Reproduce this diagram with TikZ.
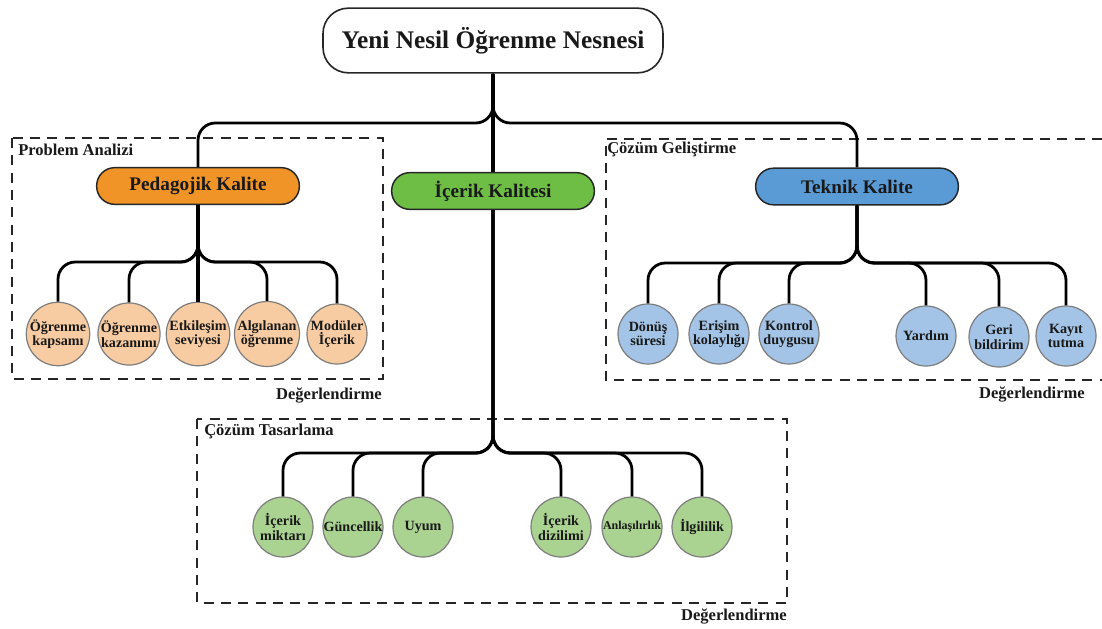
\documentclass[tikz,border=0pt]{standalone}
\usepackage{fontspec}
\setmainfont{Liberation Serif}
\definecolor{txt}{RGB}{25,25,25}
\definecolor{orangeMain}{RGB}{240,148,40}
\definecolor{peach}{RGB}{248,204,162}
\definecolor{greenMain}{RGB}{110,190,70}
\definecolor{greenLight}{RGB}{170,210,145}
\definecolor{blueMain}{RGB}{90,155,214}
\definecolor{blueLight}{RGB}{163,196,230}
\definecolor{leafBorder}{RGB}{125,125,125}
\begin{document}
\begin{tikzpicture}[x=0.75pt,y=-0.75pt,
  conn/.style={draw=black, line width=2.1pt, rounded corners=13pt},
  straightconn/.style={draw=black, line width=2.6pt},
  frame/.style={draw=black!85, line width=1.1pt, dash pattern=on 7.5pt off 5.5pt},
  mainbox/.style={draw=black!85, line width=1.1pt, rounded corners=13.5pt,
    minimum width=152pt, minimum height=27.5pt, inner sep=0pt, text=txt,
    font=\fontsize{14.4}{16}\selectfont\bfseries},
  leaf/.style={circle, draw=leafBorder, line width=0.9pt, minimum size=45pt,
    inner sep=0pt, align=center, text=txt,
    font=\fontsize{10.6}{11}\selectfont\bfseries},
  seclabel/.style={inner sep=0pt, text=txt, font=\fontsize{12.4}{14}\selectfont\bfseries}
]
\useasboundingbox (0,0) rectangle (1102,628);

% dashed frames
\draw[frame] (12,138) rectangle (383,379);
\draw[frame] (1102,139) -- (606,139) -- (606,380) -- (1102,380);
\draw[frame] (197,419) rectangle (787,603);

% frame labels
\node[seclabel, anchor=west] (lpa) at (18,150) {Problem Analizi};
\node[seclabel, anchor=east] (lde1) at (382,395) {Değerlendirme};
\node[seclabel, anchor=west] (lcg) at (607,149) {Çözüm Geliştirme};
\node[seclabel, anchor=east] (lde2) at (1085,394) {Değerlendirme};
\node[seclabel, anchor=west] (lct) at (204,431) {Çözüm Tasarlama};
\node[seclabel, anchor=east] (lde3) at (787,616) {Değerlendirme};

% main nodes
\node[draw=black!85, line width=1.2pt, rounded corners=19pt, fill=white,
  minimum width=255pt, minimum height=48.5pt, inner sep=0pt, text=txt,
  font=\fontsize{19}{22}\selectfont\bfseries] (top) at (493,40.5) {Yeni Nesil Öğrenme Nesnesi};

\node[mainbox, fill=orangeMain] (pk) at (198,186) {Pedagojik Kalite};
\node[mainbox, fill=greenMain] (ik) at (493,191) {İçerik Kalitesi};
\node[mainbox, fill=blueMain] (tk) at (857,186.5) {Teknik Kalite};

% leaves: pedagojik
\node[leaf, fill=peach] (p1) at (58,334) {Öğrenme\\kapsamı};
\node[leaf, fill=peach] (p2) at (129,334) {Öğrenme\\kazanımı};
\node[leaf, fill=peach] (p3) at (198,334) {Etkileşim\\seviyesi};
\node[leaf, fill=peach] (p4) at (267,334) {Algılanan\\öğrenme};
\node[leaf, fill=peach] (p5) at (337,334) {Modüler\\İçerik};

% leaves: teknik
\node[leaf, fill=blueLight] (t1) at (648,334) {Dönüş\\süresi};
\node[leaf, fill=blueLight] (t2) at (719,334) {Erişim\\kolaylığı};
\node[leaf, fill=blueLight] (t3) at (789,334) {Kontrol\\duygusu};
\node[leaf, fill=blueLight] (t4) at (926,336) {Yardım};
\node[leaf, fill=blueLight] (t5) at (999,337) {Geri\\bildirim};
\node[leaf, fill=blueLight] (t6) at (1066,336) {Kayıt\\tutma};

% leaves: icerik
\node[leaf, fill=greenLight] (c1) at (283,527) {İçerik\\miktarı};
\node[leaf, fill=greenLight] (c2) at (353,527) {Güncellik};
\node[leaf, fill=greenLight] (c3) at (423,527) {Uyum};
\node[leaf, fill=greenLight] (c4) at (561,527) {İçerik\\dizilimi};
\node[leaf, fill=greenLight, font=\fontsize{9}{11}\selectfont\bfseries] (c5) at (632,527) {Anlaşılırlık};
\node[leaf, fill=greenLight] (c6) at (702,527) {İlgililik};

% connector levels
\coordinate (hTop) at (0,123);
\coordinate (hP) at (0,262);
\coordinate (hT) at (0,263);
\coordinate (hC) at (0,453);

% connectors
\draw[conn] (top.south) |- (pk.north |- hTop) -- (pk.north);
\draw[conn] (top.south) |- (tk.north |- hTop) -- (tk.north);
\draw[straightconn] (top.south) -- (ik.north);

\foreach \c in {p1,p2,p4,p5}
  \draw[conn] (pk.south) |- (\c.north |- hP) -- (\c.north);
\draw[straightconn] (pk.south) -- (p3.north);
\foreach \c in {t1,t2,t3,t4,t5,t6}
  \draw[conn] (tk.south) |- (\c.north |- hT) -- (\c.north);
\foreach \c in {c1,c2,c3,c4,c5,c6}
  \draw[conn] (ik.south) |- (\c.north |- hC) -- (\c.north);
\end{tikzpicture}
\end{document}
